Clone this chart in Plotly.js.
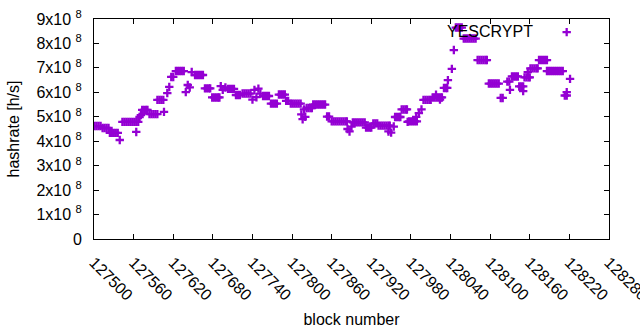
<!DOCTYPE html>
<html>
<head>
<meta charset="utf-8">
<script src="https://cdn.plot.ly/plotly-3.0.1.min.js"></script>
<style>html,body{margin:0;padding:0;background:#fff;overflow:hidden;}#chart{width:640px;height:330px;}</style>
</head>
<body>
<div id="chart"></div>
<script>
// block numbers (x) and hashrate values (h/s)
const blocks = [
  127501,127504,127507,127510,
  127513,127516,127519,127522,
  127524,127527,127530,127533,127536,
  127539,
  127543,127546,127549,127552,127555,127558,127561,127564,127567,
  127564,
  127569,127571,
  127573,127576,127579,127581,
  127584,127587,127590,127593,127596,
  127606,
  127596,127599,127602,127605,
  127611,127614,
  127617,127620,
  127624,127627,127630,127633,127636,
  127639,127642,127645,
  127648,
  127653,127656,127659,127662,127665,
  127668,127671,127674,127676,
  127679,127682,127685,127688,127690,
  127692,127695,127699,
  127703,127706,127709,127712,
  127715,127718,127721,
  127725,127728,127731,127734,127737,
  127740,127743,127746,127749,127752,
  127756,127759,127762,127765,
  127768,127771,127774,127777,
  127780,127783,127786,127789,
  127791,127794,
  127798,127801,127804,127807,127810,127813,
  127814,127816,127818,127820,
  127822,127825,127828,127830,
  127832,127835,127838,127841,127844,127847,127850,
  127853,127856,
  127860,127863,127866,127869,127872,127875,127878,127881,127883,
  127884,127887,127890,
  127892,127895,127898,127901,127904,127907,127910,
  127912,127915,127918,127920,
  127923,127926,127929,
  127931,127934,127937,127940,127943,127946,127948,
  127946,127950,127954,
  127956,127959,127962,127964,
  127966,127969,127972,127974,
  127975,
  127977,127980,127983,127986,127989,
  127988,127992,127996,
  127999,128002,128005,128008,128010,
  128013,128016,128019,128022,128025,128027,
  128018,128024,
  128030,128033,128035,
  128036,128042,128045,
  128048,128051,128054,128057,
  128060,128063,128066,128069,128072,128075,128078,
  128081,128084,128087,128090,128093,128095,
  128098,128101,128104,128107,128110,128113,
  128116,128119,
  128126,128129,128130,
  128133,128136,128139,128142,
  128144,128147,128150,128150,
  128152,128155,128158,128160,
  128157,
  128161,128164,128167,128170,128172,
  128174,128177,128180,128183,128186,
  128186,128189,128192,128195,128198,128201,128204,128207,128210,
  128213,128216,128216,
  128221
];
const hashrate = [
  4.62e8,4.62e8,4.62e8,4.62e8,
  4.54e8,4.54e8,4.54e8,4.54e8,
  4.34e8,4.34e8,4.34e8,4.34e8,4.34e8,
  4.05e8,
  4.79e8,4.79e8,4.79e8,4.79e8,4.79e8,4.79e8,4.79e8,4.79e8,4.79e8,
  4.38e8,
  4.99e8,5.07e8,
  5.28e8,5.28e8,5.28e8,5.28e8,
  5.11e8,5.11e8,5.11e8,5.11e8,5.11e8,
  5.20e8,
  5.69e8,5.69e8,5.69e8,5.69e8,
  5.97e8,6.22e8,
  6.63e8,6.63e8,
  6.87e8,6.87e8,6.87e8,6.87e8,6.87e8,
  6.01e8,6.30e8,6.20e8,
  6.83e8,
  6.71e8,6.71e8,6.71e8,6.71e8,6.71e8,
  6.16e8,6.16e8,6.16e8,6.16e8,
  5.79e8,5.79e8,5.79e8,5.79e8,5.79e8,
  6.25e8,6.10e8,6.20e8,
  6.14e8,6.14e8,6.14e8,6.14e8,
  5.89e8,5.89e8,5.89e8,
  5.95e8,5.95e8,5.95e8,5.95e8,5.95e8,
  5.70e8,6.10e8,5.80e8,6.15e8,5.95e8,
  5.85e8,5.85e8,5.85e8,5.85e8,
  5.54e8,5.54e8,5.54e8,5.54e8,
  5.91e8,5.91e8,5.91e8,5.91e8,
  5.65e8,5.65e8,
  5.54e8,5.54e8,5.54e8,5.54e8,5.54e8,5.54e8,
  5.10e8,4.90e8,5.30e8,5.00e8,
  5.36e8,5.36e8,5.36e8,5.36e8,
  5.50e8,5.50e8,5.50e8,5.50e8,5.50e8,5.50e8,5.50e8,
  5.01e8,5.01e8,
  4.81e8,4.81e8,4.81e8,4.81e8,4.81e8,4.81e8,4.81e8,4.81e8,4.81e8,
  4.50e8,4.40e8,4.60e8,
  4.77e8,4.77e8,4.77e8,4.77e8,4.77e8,4.77e8,4.77e8,
  4.56e8,4.56e8,4.56e8,4.56e8,
  4.73e8,4.73e8,4.73e8,
  4.64e8,4.64e8,4.64e8,4.64e8,4.64e8,4.64e8,4.64e8,
  4.40e8,4.35e8,4.60e8,
  4.99e8,4.99e8,4.99e8,4.99e8,
  5.30e8,5.30e8,5.30e8,5.30e8,
  4.79e8,
  4.81e8,4.81e8,4.81e8,4.81e8,4.81e8,
  5.00e8,5.15e8,5.30e8,
  5.69e8,5.69e8,5.69e8,5.69e8,5.69e8,
  5.79e8,5.79e8,5.79e8,5.79e8,5.79e8,5.79e8,
  5.90e8,5.70e8,
  6.18e8,6.18e8,6.18e8,
  6.50e8,6.96e8,7.73e8,
  8.65e8,8.65e8,8.65e8,8.65e8,
  8.20e8,8.20e8,8.20e8,8.20e8,8.20e8,8.20e8,8.20e8,
  7.32e8,7.32e8,7.32e8,7.32e8,7.32e8,7.32e8,
  6.36e8,6.36e8,6.36e8,6.36e8,6.36e8,6.36e8,
  5.77e8,5.77e8,
  6.44e8,6.44e8,6.10e8,
  6.65e8,6.65e8,6.65e8,6.65e8,
  6.24e8,6.24e8,6.24e8,6.05e8,
  6.61e8,6.61e8,6.61e8,6.61e8,
  6.83e8,
  6.98e8,6.98e8,6.98e8,6.98e8,6.98e8,
  7.32e8,7.32e8,7.32e8,7.32e8,7.32e8,
  6.87e8,6.87e8,6.87e8,6.87e8,6.87e8,6.87e8,6.87e8,6.87e8,6.87e8,
  5.87e8,5.87e8,6.01e8,
  6.55e8
];
const xTickVals = [127500,127560,127620,127680,127740,127800,127860,127920,127980,128040,128100,128160,128220,128280];
const xTickText = ["127500","127560","127620","127680","127740","127800","127860","127920","127980","128040","128100","128160","128220","128280"];
const yTickVals = [0,1e8,2e8,3e8,4e8,5e8,6e8,7e8,8e8,9e8];
const yTickText = ["0","1x10 <sup>8</sup>","2x10 <sup>8</sup>","3x10 <sup>8</sup>","4x10 <sup>8</sup>","5x10 <sup>8</sup>","6x10 <sup>8</sup>","7x10 <sup>8</sup>","8x10 <sup>8</sup>","9x10 <sup>8</sup>"];
const seriesName = "YESCRYPT";

const color = "#9400D3";
const font = {family: "Liberation Sans, Arial, sans-serif", size: 16, color: "#000"};

const trace = {
  x: blocks, y: hashrate, type: "scatter", mode: "markers",
  name: "", showlegend: true,
  marker: {symbol: "cross-thin", size: 6, color: color, line: {color: color, width: 2.3}},
  hoverinfo: "x+y"
};

const layout = {
  width: 640, height: 330,
  margin: {l: 94, r: 31, t: 19, b: 91},
  paper_bgcolor: "#fff", plot_bgcolor: "#fff",
  font: font,
  showlegend: true,
  legend: {x: 0.879, y: 0.94, xanchor: "left", yanchor: "middle", bgcolor: "rgba(0,0,0,0)", font: font},
  xaxis: {
    range: [127500, 128280], tickmode: "array", tickvals: xTickVals, ticktext: xTickText,
    tickangle: 45, ticks: "inside", ticklen: 5, tickcolor: "#000", mirror: "ticks",
    showline: true, linecolor: "#000", linewidth: 1, showgrid: false, zeroline: false,
    ticklabeloverflow: "allow", ticklabelstandoff: 7,
    tickfont: font, title: {text: "block number", font: font, standoff: 10}
  },
  yaxis: {
    range: [0, 9e8], tickmode: "array", tickvals: yTickVals, ticktext: yTickText,
    ticks: "inside", ticklen: 5, tickcolor: "#000", mirror: "ticks",
    showline: true, linecolor: "#000", linewidth: 1, showgrid: false, zeroline: false,
    tickfont: font, ticklabelstandoff: 8, title: {text: "hashrate [h/s]", font: font, standoff: 12}
  },
  annotations: [{
    xref: "paper", yref: "paper", x: 0.857, y: 0.945, xanchor: "right", yanchor: "middle",
    text: seriesName, showarrow: false, font: font
  }]
};

Plotly.newPlot("chart", [trace], layout, {staticPlot: true, displayModeBar: false});
</script>
</body>
</html>
